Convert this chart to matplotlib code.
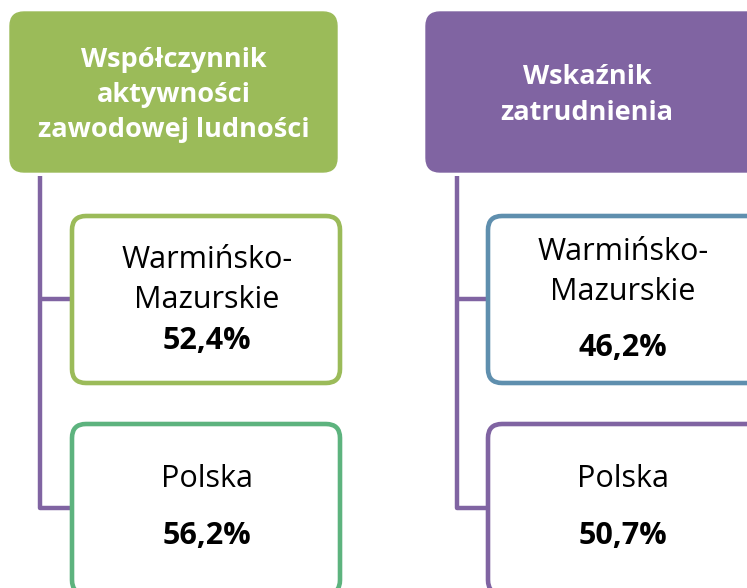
import matplotlib
matplotlib.use("Agg")
import matplotlib.pyplot as plt
from matplotlib.patches import FancyBboxPatch

plt.rcParams['font.family'] = ['Open Sans', 'DejaVu Sans']

headers = ["Współczynnik\naktywności\nzawodowej ludności", "Wskaźnik\nzatrudnienia"]
regions = ["Warmińsko-\nMazurskie", "Polska"]
values = [["52,4%", "56,2%"], ["46,2%", "50,7%"]]
header_colors = ["#9BBB59", "#8064A2"]
box_colors = [["#9BBB59", "#5DB37E"], ["#5F8FAE", "#8064A2"]]
connector_color = "#8064A2"

W, H = 747, 588
fig = plt.figure(figsize=(W / 100, H / 100), dpi=100)
ax = fig.add_axes([0, 0, 1, 1])
ax.set_xlim(0, W)
ax.set_ylim(H, 0)
ax.axis('off')

cols = [
    dict(hx=10, hw=327, vx=40, bx=72, bw=268),
    dict(hx=426, hw=335, vx=457, bx=488, bw=275),
]
hy, hh = 12, 160
boxes_y = [(216, 167), (424, 170)]

for ci, col in enumerate(cols):
    hp = FancyBboxPatch((col['hx'], hy), col['hw'], hh,
                        boxstyle="round,pad=0,rounding_size=14",
                        fc=header_colors[ci], ec=header_colors[ci], lw=1)
    ax.add_patch(hp)
    ax.text(col['hx'] + (327 if ci == 0 else 322) / 2, hy + hh / 2 + 3, headers[ci],
            ha='center', va='center', color='white', fontsize=19.5,
            fontweight='bold', linespacing=1.45)
    ax.plot([col['vx'], col['vx'], col['bx']], [hy + hh + 4, 508, 508],
            color=connector_color, lw=3.2, solid_capstyle='butt',
            solid_joinstyle='round', zorder=1)
    ax.plot([col['vx'] - 1.1, col['bx']], [299, 299], color=connector_color,
            lw=3.2, solid_capstyle='butt', zorder=1)
    for bi, (by, bh) in enumerate(boxes_y):
        bp = FancyBboxPatch((col['bx'], by), col['bw'], bh,
                            boxstyle="round,pad=0,rounding_size=14",
                            fc='white', ec=box_colors[ci][bi], lw=3.3, zorder=2)
        ax.add_patch(bp)

text_cx = [207, 623]
fs = 22
for ci in range(2):
    cx = text_cx[ci]
    if ci == 0:
        ax.text(cx, 280, regions[0], ha='center', va='center', fontsize=fs,
                linespacing=1.4, zorder=3)
        ax.text(cx, 341, values[ci][0], ha='center', va='center', fontsize=fs,
                fontweight='bold', zorder=3)
    else:
        ax.text(cx, 272, regions[0], ha='center', va='center', fontsize=fs,
                linespacing=1.4, zorder=3)
        ax.text(cx, 348, values[ci][0], ha='center', va='center', fontsize=fs,
                fontweight='bold', zorder=3)
    ax.text(cx, 479, regions[1], ha='center', va='center', fontsize=fs, zorder=3)
    ax.text(cx, 536, values[ci][1], ha='center', va='center', fontsize=fs,
            fontweight='bold', zorder=3)

fig.savefig("out.png", dpi=100)
